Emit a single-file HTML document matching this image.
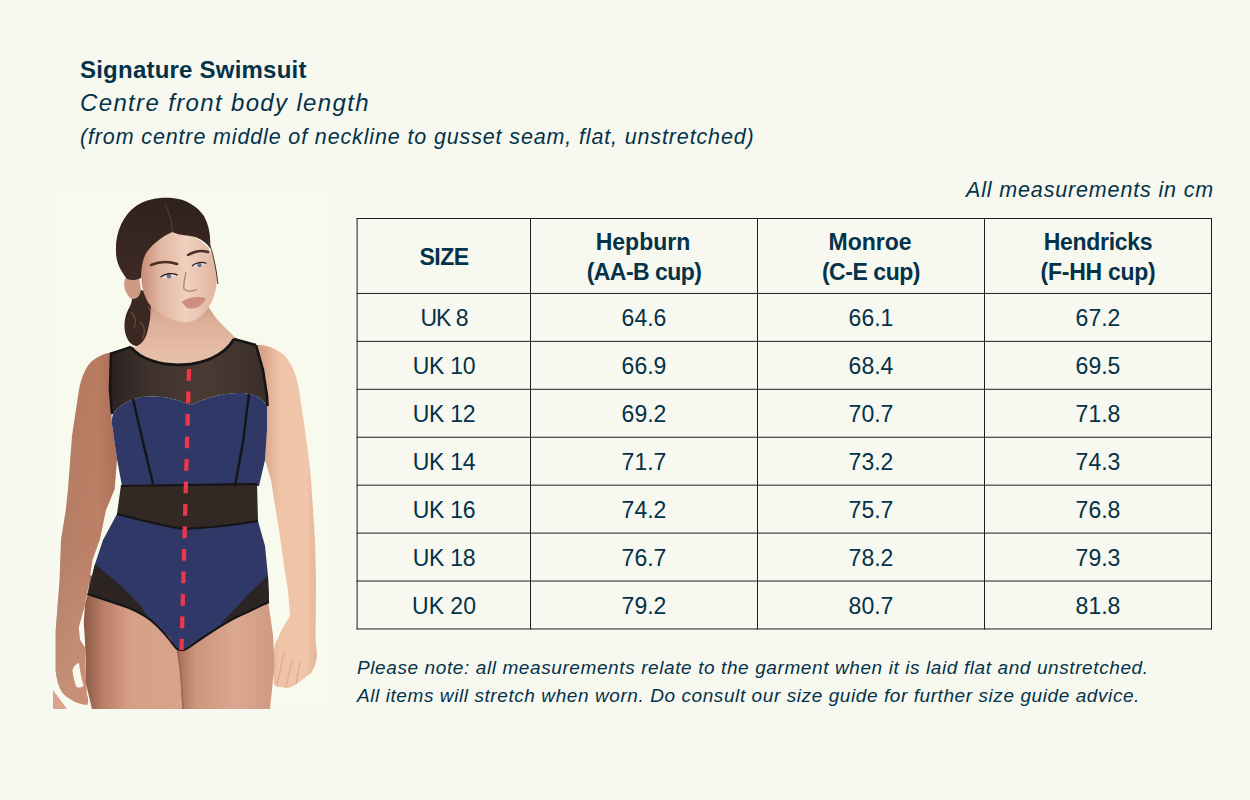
<!DOCTYPE html>
<html><head><meta charset="utf-8">
<style>
html,body{margin:0;padding:0;}
body{width:1250px;height:800px;overflow:hidden;background:#f7f8f0;position:relative;font-family:"Liberation Sans",sans-serif;color:#043248;}
.t{position:absolute;white-space:nowrap;line-height:1;}
#title{left:80px;top:58px;font-size:24px;font-weight:bold;letter-spacing:0.22px;}
#sub{left:80px;top:91px;font-size:24px;font-style:italic;letter-spacing:1.35px;}
#paren{left:80px;top:127px;font-size:21.5px;font-style:italic;letter-spacing:0.86px;}
#allm{left:966px;top:180px;font-size:21.5px;font-style:italic;letter-spacing:0.85px;}
#note1{left:357px;top:658px;font-size:19px;font-style:italic;letter-spacing:0.6px;}
#note2{left:357px;top:686px;font-size:19px;font-style:italic;letter-spacing:0.58px;}
table{position:absolute;left:357px;top:218px;border-collapse:collapse;table-layout:fixed;}
td{border:1px solid transparent;text-align:center;padding:0;font-size:23px;vertical-align:middle;}
tr.h td{height:73px;padding-top:1px;font-weight:bold;line-height:30px;}
tr.d td{height:46px;padding-top:1px;}
#photo{position:absolute;left:53px;top:190px;width:277px;height:519px;}
</style></head><body>
<div class="t" id="title">Signature Swimsuit</div>
<div class="t" id="sub">Centre front body length</div>
<div class="t" id="paren">(from centre middle of neckline to gusset seam, flat, unstretched)</div>
<div class="t" id="allm">All measurements in cm</div>

<table>
<colgroup><col style="width:173px"><col style="width:227px"><col style="width:227px"><col style="width:227px"></colgroup>
<tr class="h"><td style="letter-spacing:-0.5px">SIZE</td><td><span style="position:relative;left:-1px">Hepburn</span><br><span style="letter-spacing:-0.55px">(AA-B cup)</span></td><td><span style="position:relative;left:-1px">Monroe</span><br><span style="letter-spacing:-0.45px">(C-E cup)</span></td><td><span style="letter-spacing:-0.3px">Hendricks</span><br><span style="letter-spacing:-0.27px">(F-HH cup)</span></td></tr>
<tr class="d"><td style="letter-spacing:-1px">UK 8</td><td>64.6</td><td>66.1</td><td>67.2</td></tr>
<tr class="d"><td style="letter-spacing:-0.3px">UK 10</td><td>66.9</td><td>68.4</td><td>69.5</td></tr>
<tr class="d"><td style="letter-spacing:-0.3px">UK 12</td><td>69.2</td><td>70.7</td><td>71.8</td></tr>
<tr class="d"><td style="letter-spacing:-0.3px">UK 14</td><td>71.7</td><td>73.2</td><td>74.3</td></tr>
<tr class="d"><td style="letter-spacing:-0.3px">UK 16</td><td>74.2</td><td>75.7</td><td>76.8</td></tr>
<tr class="d"><td style="letter-spacing:-0.3px">UK 18</td><td>76.7</td><td>78.2</td><td>79.3</td></tr>
<tr class="d"><td>UK 20</td><td>79.2</td><td>80.7</td><td>81.8</td></tr>
</table>

<svg id="grid" width="1250" height="800" style="position:absolute;left:0;top:0" fill="#1e1e1e"><rect x="356.6" y="218.00" width="855.4" height="1"/><rect x="356.6" y="292.95" width="855.4" height="1"/><rect x="356.6" y="340.88" width="855.4" height="1"/><rect x="356.6" y="388.81" width="855.4" height="1"/><rect x="356.6" y="436.74" width="855.4" height="1"/><rect x="356.6" y="484.67" width="855.4" height="1"/><rect x="356.6" y="532.60" width="855.4" height="1"/><rect x="356.6" y="580.53" width="855.4" height="1"/><rect x="356.6" y="628.46" width="855.4" height="1"/><rect x="356.6" y="218" width="1" height="411.5"/><rect x="530" y="218" width="1" height="411.5"/><rect x="757" y="218" width="1" height="411.5"/><rect x="984" y="218" width="1" height="411.5"/><rect x="1211" y="218" width="1" height="411.5"/></svg>
<div class="t" id="note1">Please note: all measurements relate to the garment when it is laid flat and unstretched.</div>
<div class="t" id="note2">All items will stretch when worn. Do consult our size guide for further size guide advice.</div>

<svg id="photo" width="277" height="519" viewBox="53 190 277 519">
<defs>
<linearGradient id="thighL" x1="84" y1="0" x2="180" y2="0" gradientUnits="userSpaceOnUse">
<stop offset="0" stop-color="#8a5a48"/><stop offset="0.22" stop-color="#bd8268"/><stop offset="0.5" stop-color="#d6a088"/><stop offset="1" stop-color="#d8a38b"/>
</linearGradient>
<linearGradient id="thighR" x1="178" y1="0" x2="275" y2="0" gradientUnits="userSpaceOnUse">
<stop offset="0" stop-color="#a86e5a"/><stop offset="0.18" stop-color="#cc957d"/><stop offset="0.6" stop-color="#dba790"/><stop offset="1" stop-color="#cf9980"/>
</linearGradient>
<linearGradient id="armL" x1="55" y1="0" x2="117" y2="0" gradientUnits="userSpaceOnUse">
<stop offset="0" stop-color="#a87864"/><stop offset="0.3" stop-color="#b47a61"/><stop offset="0.7" stop-color="#b77b61"/><stop offset="1" stop-color="#a86c55"/>
</linearGradient>
<linearGradient id="armLv" x1="0" y1="360" x2="0" y2="705" gradientUnits="userSpaceOnUse">
<stop offset="0" stop-color="#e8b8a0" stop-opacity="0"/><stop offset="0.55" stop-color="#e8b8a0" stop-opacity="0.1"/><stop offset="1" stop-color="#e3ab92" stop-opacity="0.45"/>
</linearGradient>
<linearGradient id="armR" x1="262" y1="0" x2="318" y2="0" gradientUnits="userSpaceOnUse">
<stop offset="0" stop-color="#d8a288"/><stop offset="0.3" stop-color="#efc3a6"/><stop offset="0.8" stop-color="#f0c5a9"/><stop offset="1" stop-color="#e2b29a"/>
</linearGradient>
<linearGradient id="face" x1="140" y1="0" x2="217" y2="0" gradientUnits="userSpaceOnUse">
<stop offset="0" stop-color="#c58a74"/><stop offset="0.25" stop-color="#e2b5a0"/><stop offset="0.6" stop-color="#f0d1bf"/><stop offset="1" stop-color="#e0b39e"/>
</linearGradient>
<linearGradient id="neck" x1="0" y1="295" x2="0" y2="365" gradientUnits="userSpaceOnUse">
<stop offset="0" stop-color="#bf8872"/><stop offset="0.35" stop-color="#dcae98"/><stop offset="1" stop-color="#e9c2ac"/>
</linearGradient>
<linearGradient id="yoke" x1="110" y1="0" x2="268" y2="0" gradientUnits="userSpaceOnUse">
<stop offset="0" stop-color="#2a2221"/><stop offset="0.25" stop-color="#40322d"/><stop offset="0.6" stop-color="#4a3a33"/><stop offset="1" stop-color="#3a2e2a"/>
</linearGradient>
<linearGradient id="hair" x1="0" y1="198" x2="0" y2="280" gradientUnits="userSpaceOnUse">
<stop offset="0" stop-color="#2f211d"/><stop offset="1" stop-color="#3e2a23"/>
</linearGradient>
</defs>
<rect x="53" y="191" width="276" height="518" fill="#f7faed"/>
<!-- ponytail -->
<path d="M128,284 C134,294 133,302 128,310 C123,320 124,332 127,338 C130,345 137,348 143,346 C152,342 158,332 158,320 C158,309 153,300 148,293 Z" fill="#3b2822"/>
<path d="M131,312 C135,316 137,322 134,328 M140,322 C145,326 146,333 142,339 M148,306 C152,312 153,318 150,324" stroke="#6a4a3c" stroke-width="1.2" fill="none"/>
<!-- left arm -->
<path d="M113,352 C106,353 97,356 90,363 C84,370 80,382 78.5,393 L72,436 L68,489 L65.8,510 L61,540 L59.6,578.7 L55.6,631 L55.6,670.6 C57,683 60,690 63.5,694 C70,700 78,704 87,705 C89,702 88,698 87,695 L86,680 L85,660 L85,647.5 L80,640 L78.75,627.5 L85,605 L88.75,585 L92.5,560 L100,539 L106,510 L114.7,489 L117,459 L111.5,421 Z" fill="url(#armL)"/>
<path d="M113,352 C106,353 97,356 90,363 C84,370 80,382 78.5,393 L72,436 L68,489 L65.8,510 L61,540 L59.6,578.7 L55.6,631 L55.6,670.6 C57,683 60,690 63.5,694 C70,700 78,704 87,705 C89,702 88,698 87,695 L86,680 L85,660 L85,647.5 L80,640 L78.75,627.5 L85,605 L88.75,585 L92.5,560 L100,539 L106,510 L114.7,489 L117,459 L111.5,421 Z" fill="url(#armLv)"/>
<path d="M53,690 L67,709 L53,709 Z" fill="#d9a48e"/>
<path d="M72.5,670 C74,666 77,663 79,663 C80,672 82,680 83.7,686 C80,688 77,688 76,686 C74,680 73,675 72.5,670 Z" fill="#f7faed"/>
<!-- right arm -->
<path d="M255,345 L261,345 C270,346 279,350 285,356 C292,364 297,376 299,390 L305,430 L309,460 L311,480 L315,540 L316,580 L315.5,640 L317,655 C316,664 314,669 311,673 L297.5,683.5 C293,686 290,688 287,688 L276.5,686.5 C274,685 273.5,682 274,680 L272,670 L273,655 L275,644.5 L282.5,628 L290,616 L288,590 L285,572 L279,530 L271,480 L265,460 L267,430 L267,396 L263,370 Z" fill="url(#armR)"/>
<path d="M284,652 C282,662 280,672 277,684 M292,660 C290,670 288,678 286,687 M300,662 C299,670 297,676 296,684" stroke="#d9a58c" stroke-width="1" fill="none"/>
<!-- thighs -->
<path d="M90,575 L88,592.5 L85,605 L83.75,622.5 L85,641 L85.6,660 L86,683.7 L92,709 L182,709 L180,672 L177,640 L150,600 Z" fill="url(#thighL)"/>
<path d="M175,640 L180,672 L182,709 L270,709 L274.5,665 L273,635 L268.5,604 L269,590 L220,610 Z" fill="url(#thighR)"/>
<path d="M178,650 C181,670 182,690 183,709" stroke="#a06652" stroke-width="1.6" fill="none"/>
<!-- neck / chest -->
<path d="M150,296 C152,310 150,325 146,336 C143,343 138,347 128,349 L150,375 L220,375 L245,345 L236,338 C228,330 218,322 212,312 C207,306 205,300 205,294 Z" fill="url(#neck)"/>
<!-- ear -->
<path d="M127,276 C122,281 124,292 130,298 C135,301 140,297 141,290 L139,276 Z" fill="#cf9a84"/>
<!-- face -->
<path d="M141.6,258 C146,244 156,234 172.6,232 C186,232 200,238 208,247.6 C214,256 217,268 217,280 C216,292 213,300 210,305 C205,314 198,320 190,322 C180,323 170,320 162,315 C154,310 148,304 146,298 C142,290 141,280 141,272 C141,266 141,262 141.6,258 Z" fill="url(#face)"/>
<!-- hair top -->
<path d="M116,252 C115,234 122,216 136,206 C146,199 160,197 172,198 C186,199 197,206 204,216 C209,225 211,236 210,248 C205,241 198,237 190,236 C182,235 176,234 172.6,232 C162,236 150,246 145,255 C142,262 141,270 141,278 C137,280 132,281 127,279 C120,270 116,262 116,252 Z" fill="url(#hair)"/>
<path d="M165,204 C170,214 172,224 172.6,232" stroke="#5a4038" stroke-width="1" fill="none"/>
<path d="M208,240 C213,252 216,268 218,284" stroke="#4a342c" stroke-width="1" fill="none"/>
<!-- brows, eyes, lips, nose -->
<path d="M151,265 C158,262 168,261 177,264" stroke="#4a2e24" stroke-width="2.6" fill="none" stroke-linecap="round"/>
<path d="M188,255 C195,251 202,250 208,252" stroke="#4a2e24" stroke-width="2.4" fill="none" stroke-linecap="round"/>
<path d="M161,277 C165,274 172,273 177,275 C172,279 166,280 161,277 Z" fill="#e8d6cf"/><circle cx="169" cy="276.3" r="2.3" fill="#5d7699"/><path d="M160.5,277 C165,273.5 172,272.5 177.5,275" stroke="#2e1f1a" stroke-width="1.4" fill="none"/>
<path d="M192.6,266 C196,263 202,262 206,263.5 C202,267 197,268 192.6,266 Z" fill="#e8d6cf"/><circle cx="199.5" cy="265.2" r="2.1" fill="#5d7699"/><path d="M192,266 C196,262.5 202,261.5 206.5,263.5" stroke="#2e1f1a" stroke-width="1.3" fill="none"/>
<path d="M186,272 C185,278 183,284 184,289 C187,292 193,292 197,289" stroke="#bb8670" stroke-width="1.4" fill="none"/>
<path d="M181.5,302 C188,297 197,296 206,298 C203,306 195,310 187,308 Z" fill="#cf8d7f"/>
<!-- mesh yoke -->
<path d="M111,354 L131,347 C150,372 215,372 234,339 L255,345 L263,370 L267,396 L267,406 C264,400 258,395 243,393 C230,393 215,394 191,405 C175,398 160,395 141,397 C128,400 118,406 113,414 L110,390 Z" fill="url(#yoke)"/>
<!-- navy bust -->
<path d="M113,414 C118,406 128,400 141,397 C160,395 175,398 191,405 C215,394 230,393 243,393 C258,395 264,400 267,406 L267,430 L265,460 L259,486 L122,486 L117,459 L111.5,421 Z" fill="#2f3866"/>
<!-- waist mesh -->
<path d="M121,485 L257,483 L258,521 C240,524 225,527 185,529 C165,527 140,520 117,514 Z" fill="#322824"/>
<!-- navy lower -->
<path d="M117,514 C140,520 165,527 185,529 C225,527 240,524 258,521 L265,546 L268,576 L269,602 C255,608 245,614 240,615.5 C225,622 205,636 188,648 C184,651 178,651 175,647 C173,643 171,640 170,638 C160,628 150.5,620 150.5,620 C140,612 130,608 120.5,605 L87.5,594 L91,580 L95,564 L103,540 Z" fill="#2f3866"/>
<!-- left mesh panel -->
<path d="M95,564 C105,572 119,584 119,584 L140,605 L151,622 C147,618 142,614 139,612 C128,606 113,601 88,594 L91,580 Z" fill="#2c2422"/>
<!-- right mesh panel -->
<path d="M268,576 L269,602 C258,608 245,614 240,616 C232,619 226,621 220,624 C228,616 236,608 245,598 C252,590 260,583 268,576 Z" fill="#2c2422"/>
<!-- binding lines -->
<path d="M111,354 L110,390 L112,414" stroke="#151517" stroke-width="2.6" fill="none"/>
<path d="M256,345 L263,370 L267,396 L267.5,406" stroke="#151517" stroke-width="2.6" fill="none"/>
<path d="M131,347 C150,372 215,372 234,339" stroke="#151517" stroke-width="2.8" fill="none"/>
<path d="M110,354 L131,347 M234,339 L256,345" stroke="#151517" stroke-width="2.6" fill="none"/>
<path d="M133,399 L143,442 L153,484" stroke="#151517" stroke-width="2.4" fill="none"/>
<path d="M249,394 L243,442 L235,486" stroke="#151517" stroke-width="2.4" fill="none"/>
<path d="M121,486 L257,484" stroke="#151517" stroke-width="2" fill="none"/>
<path d="M117,514 C140,520 165,527 185,529 C225,527 240,524 258,521" stroke="#151517" stroke-width="2" fill="none"/>
<path d="M87.5,594 L120.5,605 C130,608 140,612 150.5,620 C160,628 170,640 175,647 C178,651 184,651 188,648 C205,636 225,622 240,615.5 C245,614 255,608 269,602" stroke="#151517" stroke-width="2" fill="none"/>
<!-- red dashes -->
<path d="M189,369 L181.5,650" stroke="#eb374b" stroke-width="4.3" stroke-dasharray="11.8 10.7" fill="none"/>
</svg>
</body></html>
